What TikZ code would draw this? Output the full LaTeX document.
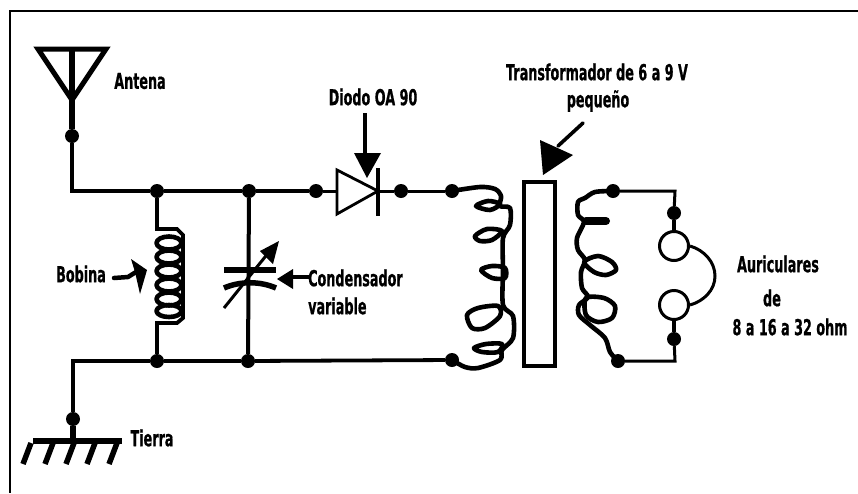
\documentclass[tikz,border=0pt]{standalone}
\usepackage{fontspec}
\newfontfamily\lblfont[FakeStretch=0.58,FakeBold=0.6]{DejaVu Sans}
\tikzset{
  junction/.style={circle,fill=black,inner sep=0pt,minimum size=14pt},
  wire/.style={line width=3.8pt},
  thinwire/.style={line width=3pt},
  coil/.style={line width=4.6pt,line join=round,line cap=round},
  lbl/.style={inner sep=0pt,font=\fontsize{22}{24}\selectfont\lblfont\bfseries},
  earpiece/.style={circle,draw=black,line width=3pt,fill=white,inner sep=0pt,minimum size=29pt}
}
\begin{document}
\begin{tikzpicture}[x=1pt,y=-1pt]
\useasboundingbox (0,0) rectangle (858,493);
% frame
\coordinate (fa) at (858,11);
\coordinate (fb) at (10,11);
\coordinate (fc) at (10,493);
\draw[line width=2.4pt] (fa) -- (fb) -- (fc);

% junctions
\node[junction] (ant) at (72,136) {};
\node[junction] (top1) at (157,191) {};
\node[junction] (top2) at (249,191) {};
\node[junction] (top3) at (316,191) {};
\node[junction] (dio) at (401,191) {};
\node[junction] (pri1) at (452,191) {};
\node[junction] (bot1) at (157,361) {};
\node[junction] (bot2) at (248,361) {};
\node[junction] (pri2) at (452,360) {};
\node[junction] (gnd) at (73,419) {};
\node[junction] (sec1) at (613,191) {};
\node[junction] (sec2) at (618,361) {};
\node[junction] (ear1) at (674,213) {};
\node[junction] (ear2) at (674,339) {};
\coordinate (antop) at (72,48);
\coordinate (cornera) at (72,191);
\coordinate (cornerb) at (73,361);
\coordinate (gndbar) at (73,441);
\coordinate (dioa) at (337,191);
\coordinate (diob) at (378,191);
\coordinate (seca) at (675,191);
\coordinate (secb) at (675,361);

% antenna
\draw[line width=5pt,line join=miter] (38,49) -- (106,49) -- (72,100) -- cycle;
\draw[line width=6.5pt] (antop) -- (ant);
\draw[wire] (ant) -- (cornera) -- (top1);
\draw[wire] (top1) -- (top2);
\draw[wire] (top2) -- (top3);
\draw[thinwire] (top3) -- (dioa);
\draw[thinwire] (diob) -- (dio);
\draw[thinwire] (dio) -- (pri1);

% bottom wire and earth
\draw[wire] (gnd) -- (cornerb) -- (bot1);
\draw[wire] (bot1) -- (bot2);
\draw[wire] (bot2) -- (pri2);
\draw[line width=6pt] (gnd) -- (gndbar);
\draw[line width=5.5pt] (33,441) -- (122,441);
\draw[line width=5.5pt] (31,443) -- (23,464);
\draw[line width=5.5pt] (53,443) -- (45,464);
\draw[line width=5.5pt] (74,443) -- (66,464);
\draw[line width=5.5pt] (95,443) -- (87,464);
\draw[line width=5.5pt] (117,443) -- (109,464);

% diode
\draw[line width=2.8pt,fill=white] (337,170) -- (378,191) -- (337,214) -- cycle;
\draw[line width=4pt] (378,168) -- (378,216);
\draw[line width=4pt] (365,113) -- (365,156);
\fill (354,153) -- (381,153) -- (367,178) -- cycle;

% bobina
\draw[line width=3.8pt] (top1) -- (157,229) -- (177,229) -- (183,235) -- (183,318) -- (177,323) -- (157,323) -- (bot1);
\draw[coil] (169,243) ellipse (12.5 and 6.5);
\draw[coil] (169,257) ellipse (12.5 and 6.5);
\draw[coil] (169,271) ellipse (12.5 and 6.5);
\draw[coil] (169,285) ellipse (12.5 and 6.5);
\draw[coil] (169,299) ellipse (12.5 and 6.5);
\draw[coil] (169,311) ellipse (12.5 and 6);
\draw[line width=4.5pt,line cap=round] (114,278) -- (128,277) -- (136,272);
\fill (131,259) -- (147,270) -- (140,294) -- (135,272) -- cycle;

% condensador
\draw[line width=4pt] (top2) -- (bot2);
\draw[line width=5.5pt] (224,270) -- (276,270);
\draw[line width=5.5pt] (224,288) .. controls (240,281) and (260,281) .. (276,288);
\draw[line width=3pt] (224,308) -- (269,252);
\fill (279,241) -- (273,264) -- (260,251) -- cycle;
\draw[line width=3.6pt] (290,277) -- (309,277);
\fill (277,279) -- (293,269) -- (293,289) -- cycle;

% transformador
\draw[line width=3.6pt] (524,182) rectangle (555,366);
\draw[line width=3.6pt,line cap=round] (583,123) -- (558,146);
\fill (540,140) -- (573,155) -- (543,175) -- cycle;
\draw[coil] plot[smooth] coordinates {(pri1) (480,187) (495,189) (501,196) (500,206) (510,208) (510,225) (503,238) (503,270) (503,305) (513,316) (513,338) (502,350) (500,360) (478,368) (465,367) (pri2)};
\draw[coil] plot[smooth cycle] coordinates {(476,206) (488,201) (500,204) (490,210)};
\draw[coil] plot[smooth cycle] coordinates {(475,236) (487,229) (502,231) (492,240) (480,241)};
\draw[coil] plot[smooth cycle] coordinates {(481,270) (492,266) (505,268) (505,278) (492,278)};
\draw[coil] plot[smooth cycle] coordinates {(467,315) (478,308) (498,306) (500,316) (485,328) (472,328)};
\draw[coil] plot[smooth cycle] coordinates {(474,348) (486,344) (502,344) (498,352) (482,352)};
\draw[coil] plot[smooth] coordinates {(sec1) (595,192) (585,198) (578,202) (578,215) (584,222) (577,238) (578,250) (585,260) (581,272) (582,288) (588,297) (579,305) (579,315) (590,325) (605,338) (610,352) (sec2)};
\draw[coil,line width=8pt] (586,221) -- (606,221);
\draw[coil] plot[smooth cycle] coordinates {(584,262) (598,256) (612,262) (616,270) (606,275) (594,272)};
\draw[coil] plot[smooth cycle] coordinates {(586,298) (604,298) (615,306) (612,318) (598,322) (586,315)};

% auriculares
\draw[thinwire] (sec1) -- (seca) -- (ear1);
\draw[thinwire] (sec2) -- (secb) -- (ear2);
\node[earpiece] (pha) at (674,246) {};
\node[earpiece] (phb) at (674,305) {};
\draw[line width=4pt] (ear1) -- (pha);
\draw[line width=4pt] (ear2) -- (phb);
\draw[line width=3pt] (pha.east) .. controls (704,250) and (715,262) .. (715,276) .. controls (715,290) and (704,301) .. (phb.east);

% labels
\node[lbl] (tant) at (140,81) {Antena};
\node[lbl] (tdio) at (373,97) {Diodo OA 90};
\node[lbl] (ttra) at (597,72) {Transformador de 6 a 9 V};
\node[lbl] (tpeq) at (598,101) {pequeño};
\node[lbl] (tbob) at (81,274) {Bobina};
\node[lbl,anchor=west] (tcon) at (308,278) {Condensador};
\node[lbl,anchor=west] (tvar) at (308,306) {variable};
\node[lbl] (ttie) at (152,438) {Tierra};
\node[lbl] (taur) at (778,264) {Auriculares};
\node[lbl] (tde) at (772,298) {de};
\node[lbl] (tohm) at (790,327) {8 a 16 a 32 ohm};
\end{tikzpicture}
\end{document}
